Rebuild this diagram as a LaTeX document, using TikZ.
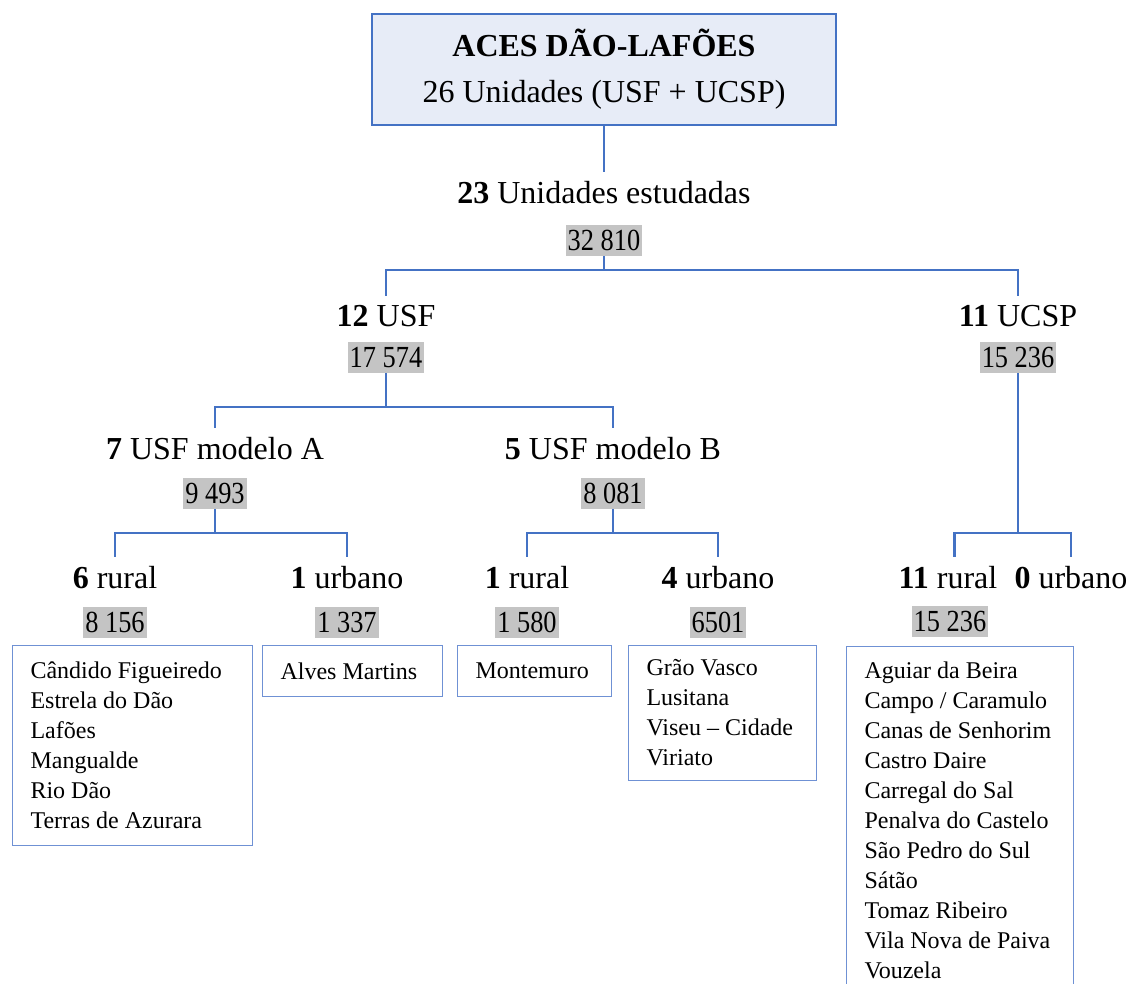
\documentclass[tikz,border=0pt]{standalone}
\usepackage{fontspec}
\setmainfont{Liberation Serif}
\usepackage{tikz}
\usetikzlibrary{positioning}
\definecolor{lineblue}{RGB}{68,114,196}
\definecolor{boxblue}{RGB}{111,145,212}
\definecolor{headfill}{RGB}{231,236,247}
\definecolor{cntgray}{RGB}{196,196,196}
\pgfdeclarelayer{nodelayer}
\pgfdeclarelayer{edgelayer}
\pgfsetlayers{edgelayer,nodelayer,main}
\tikzset{head/.style={draw=lineblue, line width=1.8pt, fill=headfill, align=center,
minimum width=348pt, minimum height=83.25pt, font=\fontsize{24}{34.5}\selectfont}}
\tikzset{lbl/.style={inner xsep=0pt, inner ysep=7pt, font=\fontsize{24}{28}\selectfont}}
\tikzset{cnt/.style={fill=cntgray, inner xsep=1.5pt, inner ysep=0pt, minimum height=23.25pt,
font=\fontsize{23}{27}\selectfont}}
\tikzset{lst/.style={draw=boxblue, line width=0.8pt, anchor=north west, align=flush left,
inner xsep=13.5pt, inner ysep=0pt, font=\fontsize{18}{22.5}\selectfont}}
\tikzset{branch/.style={draw=lineblue, line width=1.8pt}}
\newcommand{\cnt}[1]{\scalebox{0.86}[1]{#1}}

\begin{document}
\begin{tikzpicture}[x=0.75pt, y=0.75pt]
        \useasboundingbox (0,0) rectangle (1131,-984);
        \begin{pgfonlayer}{nodelayer}
            \node [style=head] (0) at (604, -69.5) {\textbf{ACES DÃO-LAFÕES}\\26 Unidades (USF + UCSP)};
            \node [style=lbl] (1) at (604, -193) {\textbf{23} Unidades estudadas};
            \node [style=cnt] (2) at (604, -240.5) {\cnt{32 810}};
            \node [style=lbl] (3) at (386, -316) {\textbf{12} USF};
            \node [style=cnt] (4) at (386, -357.5) {\cnt{17 574}};
            \node [style=lbl] (5) at (1018, -316) {\textbf{11} UCSP};
            \node [style=cnt] (6) at (1018, -357.5) {\cnt{15 236}};
            \node [style=lbl] (7) at (215, -449) {\textbf{7} USF modelo A};
            \node [style=cnt] (8) at (215, -493.5) {\cnt{9 493}};
            \node [style=lbl] (9) at (613, -449) {\textbf{5} USF modelo B};
            \node [style=cnt] (10) at (613, -493.5) {\cnt{8 081}};
            \node [style=lbl] (11) at (115, -578) {\textbf{6} rural};
            \node [style=cnt] (12) at (115, -622.5) {\cnt{8 156}};
            \node [style=lbl] (13) at (347, -578) {\textbf{1} urbano};
            \node [style=cnt] (14) at (347, -622.5) {\cnt{1 337}};
            \node [style=lbl] (15) at (527, -578) {\textbf{1} rural};
            \node [style=cnt] (16) at (527, -622.5) {\cnt{1 580}};
            \node [style=lbl] (17) at (718, -578) {\textbf{4} urbano};
            \node [style=cnt] (18) at (718, -622.5) {\cnt{6501}};
            \node [style=lbl] (19) at (948, -578) {\textbf{11} rural};
            \node [style=cnt] (20) at (950, -621) {\cnt{15 236}};
            \node [style=lbl] (21) at (1071, -578) {\textbf{0} urbano};
            \node [style=lst, text width=153pt, minimum height=150pt] (22) at (12, -645)
                {Cândido Figueiredo\\Estrela do Dão\\Lafões\\Mangualde\\Rio Dão\\Terras de Azurara};
            \node [style=lst, text width=108pt, minimum height=38.25pt] (23) at (262, -645) {Alves Martins};
            \node [style=lst, text width=88.5pt, minimum height=38.25pt] (24) at (457, -645) {Montemuro};
            \node [style=lst, text width=114pt, minimum height=101.25pt] (25) at (628, -645)
                {Grão Vasco\\Lusitana\\Viseu – Cidade\\Viriato};
            \node [style=lst, text width=143.25pt, minimum height=261pt] (26) at (846, -646)
                {Aguiar da Beira\\Campo / Caramulo\\Canas de Senhorim\\Castro Daire\\Carregal do Sal\\Penalva do Castelo\\São Pedro do Sul\\Sátão\\Tomaz Ribeiro\\Vila Nova de Paiva\\Vouzela};
        \end{pgfonlayer}
        \begin{pgfonlayer}{edgelayer}
            \draw [style=branch] (0.south) to (1.north);
            \draw [style=branch] (2.south) -- ++(0,-14) -| (3.north);
            \draw [style=branch] (2.south) -- ++(0,-14) -| (5.north);
            \draw [style=branch] (4.south) -- ++(0,-34) -| (7.north);
            \draw [style=branch] (4.south) -- ++(0,-34) -| (9.north);
            \draw [style=branch] (6.south) -- ++(0,-160) -| ([xshift=5pt]19.north);
            \draw [style=branch] (6.south) -- ++(0,-160) -| (21.north);
            \draw [style=branch] (8.south) -- ++(0,-24) -| (11.north);
            \draw [style=branch] (8.south) -- ++(0,-24) -| (13.north);
            \draw [style=branch] (10.south) -- ++(0,-24) -| (15.north);
            \draw [style=branch] (10.south) -- ++(0,-24) -| (17.north);
        \end{pgfonlayer}
    \end{tikzpicture}
\end{document}
